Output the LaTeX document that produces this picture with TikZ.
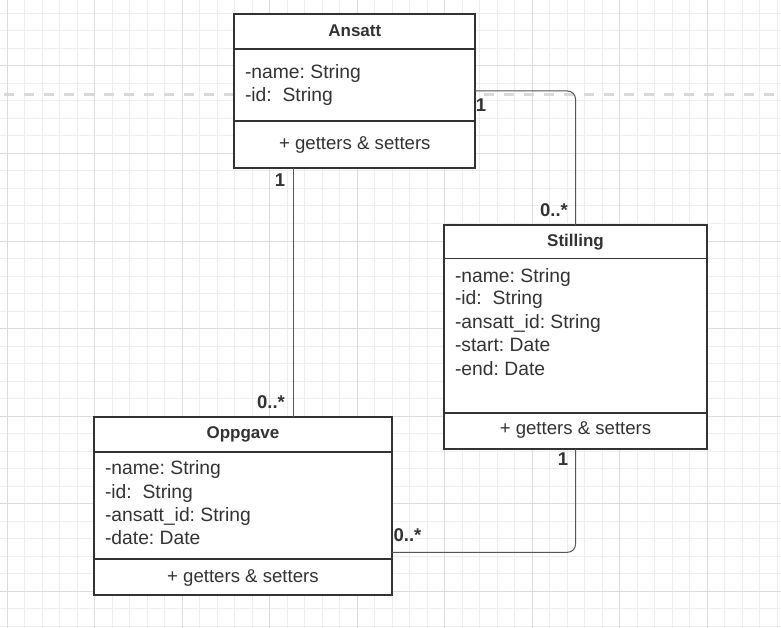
\documentclass[tikz,border=0pt]{standalone}
\usepackage{fontspec}
\setmainfont{Liberation Sans}
\frenchspacing
\definecolor{gminor}{HTML}{EDEDED}
\definecolor{gmajor}{HTML}{DCDCDC}
\definecolor{dashc}{HTML}{D9D9D9}
\definecolor{bord}{HTML}{333333}
\definecolor{txt}{HTML}{333333}
\definecolor{connc}{HTML}{555555}
\begin{document}
\begin{tikzpicture}[x=1bp,y=-1bp,
  every node/.style={inner sep=0pt, outer sep=0pt, text=txt},
  classbox/.style={draw=bord, line width=1.8bp, fill=white, rectangle, anchor=north west},
  divider/.style={draw=bord, line width=1.8bp},
  ctitle/.style={anchor=base, font=\fontsize{17bp}{20bp}\selectfont\bfseries},
  attr/.style={anchor=base west, font=\fontsize{19.3bp}{22bp}\selectfont},
  meth/.style={anchor=base, font=\fontsize{18.6bp}{22bp}\selectfont},
  card/.style={anchor=center, font=\fontsize{18.5bp}{22bp}\selectfont\bfseries},
  connector/.style={draw=connc, line width=1bp},
  gridmin/.style={draw=gminor, line width=1bp},
  gridmaj/.style={draw=gmajor, line width=1bp}]
\useasboundingbox (0,0) rectangle (781,628);
\fill[white] (0,0) rectangle (781,628);
% grid
\foreach \k in {0,...,44} {\draw[gridmin] (7+\k*17.5,0) -- (7+\k*17.5,628);}
\foreach \k in {0,...,35} {\draw[gridmin] (0,13.5+\k*17.5) -- (781,13.5+\k*17.5);}
\foreach \k in {0,...,8} {\draw[gridmaj] (7+\k*87.5,0) -- (7+\k*87.5,628);}
\foreach \k in {0,...,6} {\draw[gridmaj] (0,66+\k*87.5) -- (781,66+\k*87.5);}
% dashed guide
\draw[dashc, line width=3bp, dash pattern=on 10bp off 10bp] (4,95) -- (781,95);

% class boxes
\node[classbox, minimum width=241bp, minimum height=154bp] (ansatt) at (234,14) {};
\node[classbox, minimum width=263bp, minimum height=224.3bp] (stilling) at (444,225) {};
\node[classbox, minimum width=297.7bp, minimum height=178bp] (oppgave) at (94,417.3) {};

% connectors
\draw[connector] ([xshift=59bp]ansatt.south west) -- ([xshift=59bp]ansatt.south west |- oppgave.north);
\draw[connector, rounded corners=8bp] (ansatt.east) -| (stilling.north);
\draw[connector, rounded corners=8bp] (stilling.south) |- ([yshift=-46bp]oppgave.east);

% Ansatt
\draw[divider] ([yshift=-35bp]ansatt.north west) -- ([yshift=-35bp]ansatt.north east);
\draw[divider] ([yshift=-107bp]ansatt.north west) -- ([yshift=-107bp]ansatt.north east);
\node[ctitle] (ansatt-t) at (354.8,36.3) {Ansatt};
\node[attr] (ansatt-a1) at (245,78.2) {-name: String};
\node[attr] (ansatt-a2) at (245,101.5) {-id:\ \ String};
\node[meth] (ansatt-m) at (354.8,149.2) {+ getters \& setters};

% Stilling
\draw[divider] ([yshift=-33.5bp]stilling.north west) -- ([yshift=-33.5bp]stilling.north east);
\draw[divider] ([yshift=-188.3bp]stilling.north west) -- ([yshift=-188.3bp]stilling.north east);
\node[ctitle] (stilling-t) at (575.5,246.2) {Stilling};
\node[attr] (stilling-a1) at (455,282.5) {-name: String};
\node[attr] (stilling-a2) at (455,304.8) {-id:\ \ String};
\node[attr] (stilling-a3) at (455,328.2) {-ansatt\_id: String};
\node[attr] (stilling-a4) at (455,351.5) {-start: Date};
\node[attr] (stilling-a5) at (455,375.5) {-end: Date};
\node[meth] (stilling-m) at (575.5,434.8) {+ getters \& setters};

% Oppgave
\draw[divider] ([yshift=-34.4bp]oppgave.north west) -- ([yshift=-34.4bp]oppgave.north east);
\draw[divider] ([yshift=-142bp]oppgave.north west) -- ([yshift=-142bp]oppgave.north east);
\node[ctitle] (oppgave-t) at (242.9,438.5) {Oppgave};
\node[attr] (oppgave-a1) at (105,474.8) {-name: String};
\node[attr] (oppgave-a2) at (105,498.2) {-id:\ \ String};
\node[attr] (oppgave-a3) at (105,521.5) {-ansatt\_id: String};
\node[attr] (oppgave-a4) at (105,544.2) {-date: Date};
\node[meth] (oppgave-m) at (242.9,582.2) {+ getters \& setters};

% cardinalities
\node[card] (c1) at (280,180) {1};
\node[card] (c2) at (271,402.5) {0..*};
\node[card] (c3) at (481,105) {1};
\node[card] (c4) at (554,210.5) {0..*};
\node[card] (c5) at (563,459) {1};
\node[card] (c6) at (407.5,535.5) {0..*};
\end{tikzpicture}
\end{document}
